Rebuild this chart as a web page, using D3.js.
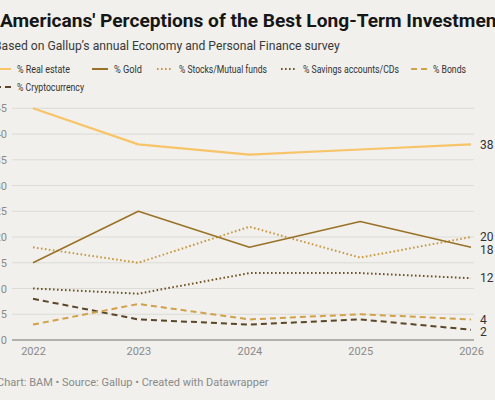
<!DOCTYPE html>
<html>
<head>
<meta charset="utf-8">
<script src="https://cdn.jsdelivr.net/npm/d3@7"></script>
<style>
  html, body { margin: 0; padding: 0; background: #f1f0ec; overflow: hidden; }
  svg { display: block; font-family: Roboto, "Noto Sans", sans-serif; }
</style>
</head>
<body>
<svg id="chart" width="495" height="400"></svg>
<script>
// ---- data ----
const years = ["2022", "2023", "2024", "2025", "2026"];
const surveyDates = ["2022-04-19", "2023-04-01", "2024-04-01", "2025-04-01", "2026-04-01"];
const seriesNames = ["% Real estate", "% Gold", "% Stocks/Mutual funds", "% Savings accounts/CDs", "% Bonds", "% Cryptocurrency"];
const realEstate = [45, 38, 36, 37, 38];
const gold = [15, 25, 18, 23, 18];
const stocks = [18, 15, 22, 16, 20];
const savings = [10, 9, 13, 13, 12];
const bonds = [3, 7, 4, 5, 4];
const crypto = [8, 4, 3, 4, 2];
const yTicks = [0, 5, 10, 15, 20, 25, 30, 35, 40, 45];

const titleText = "Americans' Perceptions of the Best Long-Term Investments";
const subtitleText = "Based on Gallup\u2019s annual Economy and Personal Finance survey";
const footerText = "Chart: BAM \u2022 Source: Gallup \u2022 Created with Datawrapper";

// ---- styles / layout ----
const styles = [
  { color: "#f8c468", width: 2.2, dash: null },
  { color: "#9a7227", width: 1.6, dash: null },
  { color: "#c8983f", width: 2, dash: "1.6,2.4" },
  { color: "#6e5425", width: 2, dash: "1.6,2.4" },
  { color: "#d2a14b", width: 2, dash: "6,4" },
  { color: "#5a4628", width: 2, dash: "6,4" }
];
const legendLayout = [
  { x: -5, y: 69, w: 53 }, { x: 92, y: 69, w: 28 }, { x: 157, y: 69, w: 88 },
  { x: 281, y: 69, w: 96 }, { x: 411, y: 69, w: 33 }, { x: -5, y: 87, w: 67 }
];
const allValues = [realEstate, gold, stocks, savings, bonds, crypto];
const series = seriesNames.map((name, i) => ({
  name, values: allValues[i], style: styles[i], leg: legendLayout[i]
}));

const parse = d3.timeParse("%Y-%m-%d");
const dates = surveyDates.map(parse);

const svg = d3.select("#chart");

function fitSize(weight, baseSize, targetWidth, text) {
  const t = svg.append("text").attr("font-size", baseSize)
    .attr("font-weight", weight).text(text);
  const w = t.node().getComputedTextLength();
  t.remove();
  return baseSize * targetWidth / w;
}

// title etc
svg.append("text").attr("x", 0).attr("y", 27)
  .attr("font-weight", 700).attr("fill", "#161616")
  .attr("font-size", fitSize(700, 19, 497, "Americans' Perceptions of the Best Long-Term Investmen"))
  .text(titleText);
svg.append("text").attr("x", -6).attr("y", 50).attr("fill", "#3a3a3a")
  .attr("font-size", fitSize(400, 13, 346, subtitleText)).text(subtitleText);

// legend
series.forEach(s => {
  const g = svg.append("g").attr("transform", `translate(${s.leg.x},${s.leg.y})`);
  g.append("line").attr("x1", 0).attr("x2", 16).attr("y1", 0).attr("y2", 0)
    .attr("stroke", s.style.color).attr("stroke-width", 2)
    .attr("stroke-dasharray", s.style.dash);
  g.append("text").attr("x", 22).attr("y", 0).attr("dy", "0.35em")
    .attr("font-size", 10.5).attr("fill", "#333")
    .attr("textLength", s.leg.w).attr("lengthAdjust", "spacingAndGlyphs")
    .text(s.name);
});

// scales
const x = d3.scaleTime().domain(d3.extent(dates)).range([33, 471]);
const y = d3.scaleLinear().domain([0, 45]).range([340, 108.3]);

// grid
svg.append("g").selectAll("line").data(yTicks.filter(t => t > 0)).join("line")
  .attr("x1", 12).attr("x2", 474)
  .attr("y1", d => y(d)).attr("y2", d => y(d))
  .attr("stroke", "#dcdbd6").attr("stroke-width", 1);

// y axis labels
const yAxis = d3.axisLeft(y).tickValues(yTicks).tickSize(0).tickPadding(0);
const yg = svg.append("g").attr("transform", "translate(7,0)").call(yAxis);
yg.select(".domain").remove();
yg.selectAll("text").attr("font-size", 11).attr("fill", "#8a8a8a")
  .attr("font-family", "Roboto, sans-serif");

// baseline
svg.append("line").attr("x1", 12).attr("x2", 474)
  .attr("y1", y(0)).attr("y2", y(0))
  .attr("stroke", "#9b9b9b").attr("stroke-width", 1.5);

// x axis
const xAxis = d3.axisBottom(x).tickValues(dates)
  .tickFormat((d, i) => years[i]).tickSize(0).tickPadding(0);
const xg = svg.append("g").attr("transform", `translate(0,${y(0) + 7})`).call(xAxis);
xg.select(".domain").remove();
xg.selectAll("text").attr("font-size", 11).attr("fill", "#8a8a8a")
  .attr("font-family", "Roboto, sans-serif");

// lines
const line = d3.line().x((d, i) => x(dates[i])).y(d => y(d));
svg.append("g").selectAll("path").data(series.slice().reverse()).join("path")
  .attr("d", s => line(s.values))
  .attr("fill", "none")
  .attr("stroke", s => s.style.color)
  .attr("stroke-width", s => s.style.width)
  .attr("stroke-dasharray", s => s.style.dash)
  .attr("stroke-linejoin", "round");

// end labels with simple collision avoidance
const last = dates.length - 1;
const labels = series.map(s => ({ v: s.values[last], y: y(s.values[last]) }))
  .sort((a, b) => a.y - b.y);
for (let i = 1; i < labels.length; i++) {
  if (labels[i].y - labels[i - 1].y < 12.5) labels[i].y = labels[i - 1].y + 12.5;
}
svg.append("g").selectAll("text").data(labels).join("text")
  .attr("x", 480).attr("y", d => d.y).attr("dy", "0.35em")
  .attr("font-size", 12).attr("fill", "#333").text(d => d.v);

// footer
svg.append("text").attr("x", -3).attr("y", 386)
  .attr("font-size", 11).attr("fill", "#8a8a8a").text(footerText);
</script>
</body>
</html>
